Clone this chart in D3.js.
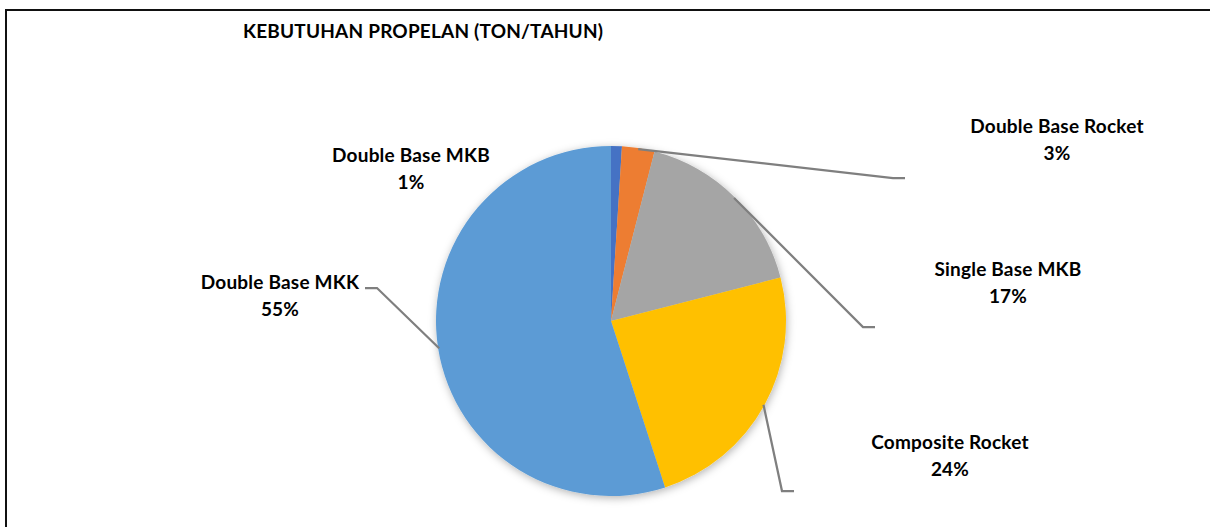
<!DOCTYPE html>
<html>
<head>
<meta charset="utf-8">
<script src="https://cdn.jsdelivr.net/npm/d3@7"></script>
<style>
  html, body { margin: 0; padding: 0; background: #ffffff; }
  svg { display: block; }
  text { font-family: Lato, "Open Sans", sans-serif; font-weight: 700; fill: #000; letter-spacing: 0.2px; }
</style>
</head>
<body>
<svg id="chart" width="1210" height="527"></svg>
<script>
// Propellant demand share (percent of tons per year)
const categories = ["Double Base MKB", "Double Base Rocket", "Single Base MKB", "Composite Rocket", "Double Base MKK"];
const shares = [1, 3, 17, 24, 55];
const colors = ["#4472C4", "#ED7D31", "#A5A5A5", "#FFC000", "#5B9BD5"];
const title = "KEBUTUHAN PROPELAN (TON/TAHUN)";

// Label anchors (text centre) and leader-line elbows, in page pixels
const labelPos = [
  { x: 411, y: 162, elbow: null },
  { x: 1057, y: 133, elbow: [893, 178], end: 905 },
  { x: 1008, y: 276, elbow: [863, 327], end: 875 },
  { x: 950, y: 449, elbow: [782, 491], end: 794 },
  { x: 280, y: 289, elbow: [377, 288], end: 365 }
];

const W = 1210, H = 527;
const cx = 611, cy = 321, R = 175;
const fontSize = 19;

const svg = d3.select("#chart");

// frame (top and left edges visible)
svg.append("path")
  .attr("d", `M${W},10 H6 V${H}`)
  .attr("fill", "none")
  .attr("stroke", "#111")
  .attr("stroke-width", 2);

svg.append("text")
  .attr("x", 243)
  .attr("y", 38)
  .attr("font-size", fontSize)
  .text(title);

const defs = svg.append("defs");
const f = defs.append("filter").attr("id", "shadow")
  .attr("x", "-20%").attr("y", "-20%").attr("width", "140%").attr("height", "140%");
f.append("feDropShadow")
  .attr("dx", 1).attr("dy", 2).attr("stdDeviation", 4)
  .attr("flood-color", "#000").attr("flood-opacity", 0.3);

const data = categories.map((c, i) => ({ name: c, value: shares[i], color: colors[i], pos: labelPos[i] }));

const pie = d3.pie().value(d => d.value).sort(null);
const arcs = pie(data);
const arc = d3.arc().innerRadius(0).outerRadius(R);

const g = svg.append("g").attr("transform", `translate(${cx},${cy})`);

g.append("g").attr("filter", "url(#shadow)")
  .selectAll("path")
  .data(arcs)
  .join("path")
  .attr("d", arc)
  .attr("fill", d => d.data.color);

// leader lines from the slice rim at its mid-angle to the label
const rim = d3.arc().innerRadius(R - 1).outerRadius(R - 1);
const leaders = arcs.filter(d => d.data.pos.elbow);
svg.append("g").selectAll("polyline")
  .data(leaders)
  .join("polyline")
  .attr("points", d => {
    const [px, py] = rim.centroid(d);
    const e = d.data.pos.elbow;
    return `${cx + px},${cy + py} ${e[0]},${e[1]} ${d.data.pos.end},${e[1]}`;
  })
  .attr("fill", "none")
  .attr("stroke", "#7F7F7F")
  .attr("stroke-width", 2.25);

const fmt = v => d3.format(".0%")(v / d3.sum(shares));
const labels = svg.append("g").selectAll("text")
  .data(arcs)
  .join("text")
  .attr("text-anchor", "middle")
  .attr("font-size", fontSize);
labels.append("tspan")
  .attr("x", d => d.data.pos.x)
  .attr("y", d => d.data.pos.y)
  .text(d => d.data.name);
labels.append("tspan")
  .attr("x", d => d.data.pos.x)
  .attr("dy", 27)
  .text(d => fmt(d.data.value));
</script>
</body>
</html>
